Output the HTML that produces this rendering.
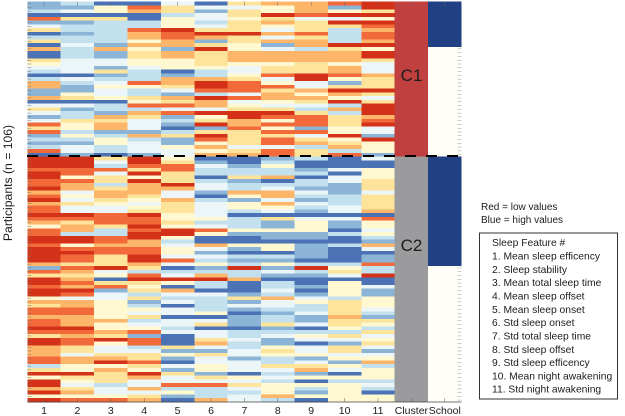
<!DOCTYPE html>
<html lang="en">
<head>
<meta charset="utf-8">
<title>Sleep feature heatmap</title>
<style>
html,body{margin:0;padding:0;background:#fff;width:625px;height:416px;overflow:hidden}
svg{display:block}
text{font-family:"Liberation Sans",sans-serif;fill:#1c1c1c}
#cells{filter:blur(0.35px)}
</style>
</head>
<body>
<svg id="chart" xmlns="http://www.w3.org/2000/svg" width="625" height="416" viewBox="0 0 625 416">
  <g id="cells" shape-rendering="crispEdges"></g>
  <g id="sidebars" shape-rendering="crispEdges"></g>
  <g id="ticks"></g>
  <line x1="27" y1="156" x2="462" y2="156" stroke="#000" stroke-width="2" stroke-dasharray="11 10"></line>
  <text x="411.5" y="81" font-size="17" text-anchor="middle">C1</text>
  <text x="411.5" y="251" font-size="17" text-anchor="middle">C2</text>
  <text transform="translate(12,183) rotate(-90)" font-size="12.2" text-anchor="middle">Participants (n = 106)</text>
  <g id="xlabels" font-size="10.5" text-anchor="middle"></g>
  <text x="481" y="210" font-size="10">Red = low values</text>
  <text x="481" y="223" font-size="10">Blue = high values</text>
  <rect x="479.5" y="233" width="138" height="166" fill="#fff" stroke="#333" stroke-width="1"></rect>
  <g font-size="10.3">
    <text x="492" y="246">Sleep Feature #</text>
    <text x="492" y="259.5">1. Mean sleep efficency</text>
    <text x="492" y="273">2. Sleep stability</text>
    <text x="492" y="286">3. Mean total sleep time</text>
    <text x="492" y="299.5">4. Mean sleep offset</text>
    <text x="492" y="313">5. Mean sleep onset</text>
    <text x="492" y="326">6. Std sleep onset</text>
    <text x="492" y="339.5">7. Std total sleep time</text>
    <text x="492" y="353">8. Std sleep offset</text>
    <text x="492" y="366">9. Std sleep efficency</text>
    <text x="492" y="379.5">10. Mean night awakening</text>
    <text x="492" y="392.5">11. Std night awakening</text>
  </g>
</svg>
<script>
const columnLabels = ["1","2","3","4","5","6","7","8","9","10","11"];
const extraLabels = ["Cluster","School"];
const levelColors = ["#d43218","#f26a3a","#fdb56a","#fee39a","#fff8d0","#ecf6f8","#c2e0ee","#8bb4d6","#4a72b4"];

const feature1 = [7,7,6,8,1,7,5,3,8,6,3,8,2,8,8,3,4,5,6,8,6,2,2,7,7,2,8,5,3,5,7,5,1,3,1,7,6,7,6,1,8,
  0,0,0,1,0,0,1,1,0,2,1,0,2,1,1,0,1,2,4,1,1,0,0,1,0,0,0,0,2,7,1,3,0,0,1,0,0,4,2,3,1,1,2,1,1,0,1,3,0,0,2,2,2,1,1,6,3,0,4,0,0,2,0,4,0];
const feature2 = [6,7,5,8,3,7,6,6,7,6,6,5,6,6,6,5,5,5,5,8,5,6,7,7,4,3,8,5,7,6,6,3,4,4,6,4,6,7,5,5,7,
  0,0,0,1,1,4,1,2,2,5,4,5,3,5,5,0,1,3,2,2,6,0,0,4,1,0,1,1,3,1,2,3,2,1,2,0,1,5,2,2,1,1,2,2,2,0,1,2,1,1,3,3,5,2,2,4,4,0,3,4,5,3,2,4,1];
const feature3 = [8,4,4,8,3,6,6,6,6,6,6,7,2,7,7,5,5,7,3,7,6,5,4,5,5,4,8,6,6,7,2,3,2,2,7,6,4,4,6,6,8,
  3,5,6,1,5,3,3,6,3,2,2,3,4,5,5,1,1,1,3,6,6,1,1,2,1,1,3,3,3,0,5,4,8,3,1,7,5,5,4,4,4,4,4,2,4,4,2,3,0,4,5,5,3,2,0,4,2,3,3,3,6,5,5,4,1];
const feature4 = [8,1,2,8,8,6,6,1,2,2,4,2,4,3,3,4,4,5,6,6,6,1,4,6,6,3,4,1,6,2,3,5,5,5,7,2,6,5,5,5,7,
  0,0,1,3,0,4,0,2,2,2,3,4,5,4,3,0,1,1,0,1,0,0,2,2,1,1,0,0,2,3,6,1,0,3,4,3,6,3,7,6,4,5,3,6,5,4,1,7,1,1,6,5,3,3,1,3,4,0,2,5,5,2,5,3,2];
const feature5 = [5,3,3,6,4,4,4,0,1,1,2,2,7,2,2,4,4,4,8,7,2,2,3,5,7,2,3,1,5,1,7,6,7,8,6,3,7,7,4,5,5,
  4,3,1,1,3,3,3,0,2,5,5,2,3,3,3,4,4,3,4,0,0,4,6,5,4,4,5,1,5,8,6,5,0,4,8,2,5,6,5,8,5,5,8,5,5,6,5,8,8,8,3,7,4,7,8,5,7,3,5,5,1,6,4,7,8];
const feature6 = [8,5,7,5,5,6,5,3,0,2,7,3,0,3,3,3,3,4,6,6,2,0,0,1,6,0,2,2,5,0,4,3,0,7,3,0,1,4,2,4,2,
  8,7,5,6,6,8,6,5,5,7,8,6,5,5,5,5,4,6,5,1,4,8,8,2,5,7,5,6,4,7,6,2,0,6,6,8,5,6,6,6,6,4,8,5,3,8,5,5,3,2,5,7,3,5,5,4,4,7,3,5,1,6,6,6,2];
const feature7 = [3,5,3,3,4,3,3,3,0,3,3,4,4,2,2,2,4,5,5,4,3,1,1,1,5,1,5,4,3,0,0,2,2,1,3,3,3,3,5,3,2,
  8,8,7,6,6,3,7,6,6,2,4,7,4,4,6,8,6,6,6,4,7,8,8,4,7,8,6,7,6,0,6,6,2,8,8,8,7,3,7,5,7,8,7,7,7,8,6,6,5,6,6,5,5,7,5,5,5,8,4,5,3,5,6,5,5];
const feature8 = [2,4,4,0,3,2,4,5,2,5,2,7,5,2,2,2,4,3,3,1,5,4,1,3,2,2,4,5,3,0,1,4,1,4,1,3,1,1,5,1,1,
  7,6,4,6,6,2,8,6,5,2,2,5,2,4,5,8,3,7,7,4,7,7,8,4,4,8,6,7,4,7,5,7,8,6,6,5,6,2,5,5,6,7,6,6,3,7,6,5,7,7,4,3,4,6,6,3,5,6,5,6,4,4,4,2,6];
const feature9 = [2,2,2,1,5,3,3,3,1,3,2,2,6,2,2,2,3,3,3,0,0,5,5,2,4,2,3,5,6,3,1,1,1,7,1,5,3,2,6,3,3,
  6,8,8,7,6,8,6,6,7,5,6,7,5,6,7,8,5,4,4,4,7,7,8,7,7,7,7,8,6,0,6,7,8,8,7,8,7,5,4,6,6,5,7,7,5,8,6,4,5,8,5,5,4,7,5,3,2,7,4,8,4,6,7,4,8];
const feature10 = [1,7,4,0,5,0,3,6,6,6,6,0,3,2,2,2,4,2,2,1,4,7,3,0,2,4,0,6,2,6,3,3,3,4,4,0,4,3,2,6,1,
  8,8,8,5,8,5,5,7,7,7,6,6,6,5,5,8,5,7,7,8,6,8,8,6,8,8,8,8,6,4,3,5,8,4,4,4,4,6,3,3,3,3,2,3,3,4,6,3,5,7,3,3,5,4,7,4,5,8,4,6,4,4,4,4,4];
const feature11 = [0,0,3,0,4,0,1,2,1,1,2,0,4,0,0,3,5,5,5,2,3,3,3,0,3,5,3,0,0,0,2,1,0,5,5,7,0,4,4,4,7,
  5,8,8,4,4,4,3,3,3,5,3,3,3,3,2,8,1,4,4,5,4,6,7,2,5,8,7,7,1,6,6,0,8,8,5,7,7,4,4,4,5,6,7,3,4,6,3,5,4,3,5,7,5,4,2,6,4,4,4,6,5,6,8,4,4];
const features = [feature1,feature2,feature3,feature4,feature5,feature6,feature7,feature8,feature9,feature10,feature11];

const clusterRunLengths = [41,65];
const clusterRunColors = ["#c0403f","#9b9b9d"];
const schoolRunLengths = [12,29,29,36];
const schoolRunFlags = [1,0,1,0];

const NS = "http://www.w3.org/2000/svg";
const plotLeft = 27.3, plotRight = 394.7, plotTop = 1.7, plotBottom = 402;
const rowCount = 106;
const colWidth = (plotRight - plotLeft) / columnLabels.length;
const rowHeight = (plotBottom - plotTop) / rowCount;
const xScale = function (c) { return plotLeft + c * colWidth; };
const yScale = function (r) { return plotTop + r * rowHeight; };

function make(tag, attrs, parent) {
  const el = document.createElementNS(NS, tag);
  for (const k in attrs) el.setAttribute(k, attrs[k]);
  parent.appendChild(el);
  return el;
}

const cellsGroup = document.getElementById("cells");
features.forEach(function (col, c) {
  col.forEach(function (v, r) {
    const cell = make("rect", {x: xScale(c), y: yScale(r), width: colWidth + 0.4, height: rowHeight + 0.4, fill: levelColors[v]}, cellsGroup);
    
    
  });
});

const sideGroup = document.getElementById("sidebars");
let clusterRow = 0;
clusterRunLengths.forEach(function (len, i) {
  const bar = make("rect", {x: xScale(11), y: yScale(clusterRow), width: colWidth + 0.2, height: len * rowHeight, fill: clusterRunColors[i]}, sideGroup);
  
  
  clusterRow += len;
});
let schoolRow = 0;
schoolRunLengths.forEach(function (len, i) {
  const bar = make("rect", {x: xScale(12), y: yScale(schoolRow), width: colWidth, height: len * rowHeight, fill: schoolRunFlags[i] ? "#213f83" : "#fffff8"}, sideGroup);
  
  
  schoolRow += len;
});

function schoolFlagAt(r) {
  let seen = 0;
  for (let i = 0; i < schoolRunLengths.length; i++) {
    seen += schoolRunLengths[i];
    if (r < seen) return schoolRunFlags[i];
  }
  return 0;
}
const tickGroup = document.getElementById("ticks");
for (let r = 0; r < rowCount; r++) {
  const y = yScale(r + 0.5);
  const leftTick = make("line", {x1: plotLeft, x2: plotLeft + 4, y1: y, y2: y, stroke: "#777", "stroke-width": 0.5}, tickGroup);
  
  
  if (schoolFlagAt(r) === 0) {
    const rightTick = make("line", {x1: xScale(13) - 4, x2: xScale(13), y1: y, y2: y, stroke: "#999", "stroke-width": 0.5}, tickGroup);
    
    
  }
}
const allLabels = columnLabels.concat(extraLabels);
const labelGroup = document.getElementById("xlabels");
allLabels.forEach(function (name, c) {
  const x = xScale(c + 0.5);
  const tickTop = make("line", {x1: x, x2: x, y1: plotTop, y2: plotTop + 4, stroke: "#666", "stroke-width": 0.5}, tickGroup);
  
  
  const tickBottom = make("line", {x1: x, x2: x, y1: plotBottom - 4, y2: plotBottom, stroke: "#666", "stroke-width": 0.5}, tickGroup);
  
  
  const label = make("text", {x: x, y: 414}, labelGroup);
  label.textContent = name;
  
  
});
const baseline = make("line", {x1: plotLeft, x2: xScale(13), y1: plotBottom, y2: plotBottom, stroke: "#444", "stroke-width": 0.7}, tickGroup);


</script>
</body>
</html>
